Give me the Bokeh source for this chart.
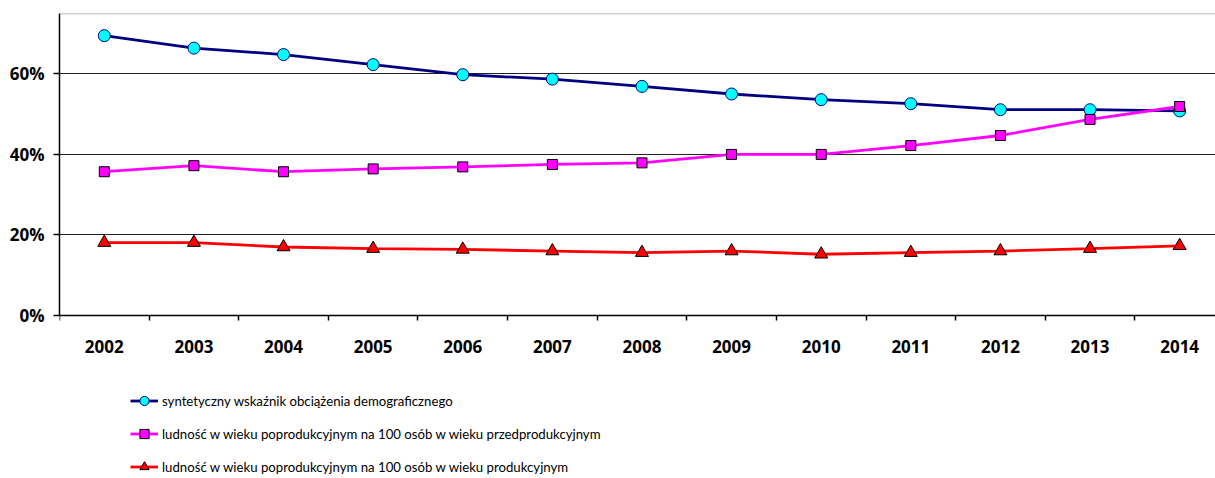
from bokeh.plotting import figure
from bokeh.models import Range1d, FixedTicker, Legend, LegendItem, Span
from bokeh.embed import file_html
from bokeh.resources import INLINE

years = ["2002", "2003", "2004", "2005", "2006", "2007", "2008",
         "2009", "2010", "2011", "2012", "2013", "2014"]
syntetyczny = [69.5, 66.4, 64.8, 62.3, 59.8, 58.7, 56.9, 55.0, 53.6, 52.6, 51.1, 51.1, 50.8]
przedprod = [35.7, 37.2, 35.7, 36.4, 36.9, 37.5, 37.9, 40.0, 40.0, 42.2, 44.7, 48.7, 51.9]
prod = [18.1, 18.1, 17.0, 16.6, 16.4, 16.0, 15.6, 16.0, 15.2, 15.6, 16.0, 16.6, 17.3]
y_ticks = [0, 20, 40, 60]
y_tick_labels = ["0%", "20%", "40%", "60%"]
series_names = [
    "syntetyczny wskaźnik obciążenia demograficznego",
    "ludność w wieku poprodukcyjnym na 100 osób w wieku przedprodukcyjnym",
    "ludność w wieku poprodukcyjnym na 100 osób w wieku produkcyjnym",
]

x = list(range(len(years)))
Y_MAX = 75
Y_MIN = -40.5  # room below the axis for the legend

p = figure(width=1215, height=478, output_backend="svg", toolbar_location=None,
           x_range=Range1d(-0.5, 12.40), y_range=Range1d(Y_MIN, Y_MAX),
           min_border_left=59, min_border_top=13, min_border_right=0,
           min_border_bottom=0)
p.outline_line_color = None
p.background_fill_color = "white"
p.border_fill_color = "white"

# top border line of the plot area
p.add_layout(Span(location=Y_MAX, dimension="width", line_color="#a6a6a6", line_width=1.5))

TICK_FONT = "Open Sans"

xa = p.xaxis[0]
xa.fixed_location = 0
xa.ticker = FixedTicker(ticks=x, minor_ticks=[i - 0.5 for i in range(len(years) + 1)])
xa.major_label_overrides = {i: years[i] for i in x}
xa.major_tick_out = 0
xa.major_tick_in = 0
xa.major_tick_line_color = None
xa.minor_tick_out = 5
xa.minor_tick_in = 0
xa.minor_tick_line_color = "black"
xa.minor_tick_line_width = 1.5
xa.axis_line_color = "black"
xa.axis_line_width = 1.5
xa.major_label_standoff = 20
xa.major_label_text_font = TICK_FONT
xa.major_label_text_font_style = "bold"
xa.major_label_text_font_size = "17px"
xa.major_label_text_color = "black"

ya = p.yaxis[0]
ya.bounds = (0, Y_MAX)
ya.ticker = FixedTicker(ticks=y_ticks)
ya.major_label_overrides = {v: l for v, l in zip(y_ticks, y_tick_labels)}
ya.major_label_text_font = TICK_FONT
ya.major_label_text_font_style = "bold"
ya.major_label_text_font_size = "17px"
ya.major_label_text_color = "black"
ya.major_label_standoff = 9
ya.major_tick_out = 6
ya.major_tick_in = 0
ya.minor_tick_line_color = None
ya.axis_line_color = "black"
ya.axis_line_width = 1.5
ya.major_tick_line_color = "black"
ya.major_tick_line_width = 1.5

p.xgrid.grid_line_color = None
p.ygrid.grid_line_color = "#222222"
p.ygrid.grid_line_width = 1.2

l1 = p.line(x, syntetyczny, line_color="#000080", line_width=2.8)
s1 = p.scatter(x, syntetyczny, marker="circle", size=12, fill_color="#00FFFF",
               line_color="#000080", line_width=1)
l2 = p.line(x, przedprod, line_color="#FF00FF", line_width=2.8)
s2 = p.scatter(x, przedprod, marker="square", size=10, fill_color="#FF00FF",
               line_color="black", line_width=1)
l3 = p.line(x, prod, line_color="#FF0000", line_width=2.8)
s3 = p.scatter(x, prod, marker="triangle", size=13, fill_color="#FF0000",
               line_color="black", line_width=1)

legend = Legend(items=[
    LegendItem(label=series_names[0], renderers=[l1, s1]),
    LegendItem(label=series_names[1], renderers=[l2, s2]),
    LegendItem(label=series_names[2], renderers=[l3, s3]),
], location=(71, 0))
legend.padding = 0
legend.margin = 0
legend.spacing = 10
legend.glyph_width = 28
legend.glyph_height = 23
legend.label_standoff = 4
legend.label_height = 20
legend.label_text_font = "Lato"
legend.label_text_font_size = "13.2px"
legend.label_text_color = "black"
legend.border_line_color = None
legend.background_fill_alpha = 0
p.add_layout(legend)

open("out.html", "w").write(file_html(p, INLINE))
